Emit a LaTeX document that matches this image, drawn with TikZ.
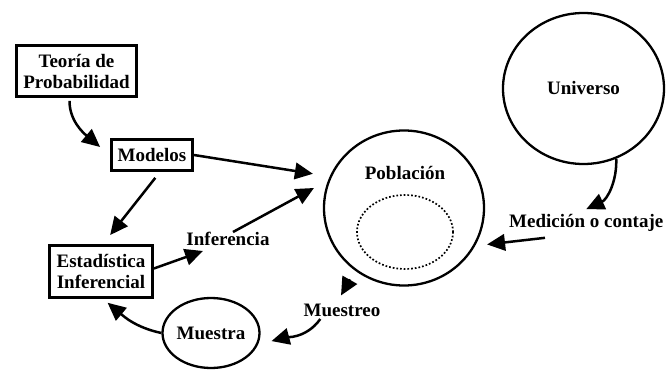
\documentclass[tikz,border=0pt]{standalone}
\usepackage{fontspec}
\setmainfont{Liberation Serif}
\usetikzlibrary{arrows.meta,calc,shapes.geometric}
\begin{document}
\begin{tikzpicture}[x=1pt,y=1pt,
  every node/.style={font=\fontsize{19}{21}\selectfont\bfseries},
  box/.style={draw,line width=2.8pt,align=center,inner sep=0pt},
  ring/.style={draw,ellipse,line width=2.3pt,inner sep=0pt},
  arr/.style={line width=2.5pt,-{Triangle[length=18pt,width=16.5pt]}},
  lbl/.style={inner sep=0pt}]
\useasboundingbox (0,0) rectangle (667,370);
% boxes
\node[box,minimum width=120pt,minimum height=51pt] (teo) at (76.5,299) {Teoría de\\Probabilidad};
\node[box,minimum width=81pt,minimum height=31pt] (mod) at (152,215) {Modelos};
\node[box,minimum width=103pt,minimum height=52pt] (est) at (101,98.5) {Estadística\\Inferencial};
% circles
\node[ring,minimum width=160pt,minimum height=155pt] (pob) at (404,162) {};
\node[lbl] (poblbl) at (405,197) {Población};
\node[draw,ellipse,dotted,line width=1.7pt,minimum width=96pt,minimum height=74pt] (sub) at (405,138) {};
\node[ring,minimum width=161pt,minimum height=151pt] (uni) at (583.5,281.5) {Universo};
\node[ring,minimum width=96pt,minimum height=70pt] (mue) at (211,37) {Muestra};
% labels
\node[lbl] (inf) at (228,131) {Inferencia};
\node[lbl] (mtr) at (342,60) {Muestreo};
\node[lbl,anchor=west] (med) at (509,147) {Medición o contaje};
% connectors
\draw[arr,shorten <=3pt] ([xshift=-7pt]teo.south) to[out=-90,in=140] ($(mod.west)+(-10,8)$);
\draw[arr,shorten >=17pt] (mod.east) -- (pob.157);
\draw[arr,shorten >=16pt] ([xshift=5pt]inf.north) -- (pob.160);
\draw[arr,shorten <=7.6pt,shorten >=11.5pt] ([xshift=8pt]mod.south) -- ([xshift=2pt]est.north);
\draw[arr] ([yshift=3pt]est.east) -- ($(inf.south)+(-25,-5)$);
\draw[arr,shorten >=6pt] (mue.west) to[out=168,in=-40] ([xshift=2pt]est.south);
\draw[arr,shorten <=3pt,shorten >=14pt] ([xshift=-20pt]mtr.south) to[out=-125,in=15] (mue.-14);
\draw[arr,shorten <=10pt] (pob.-128) -- ($(mtr.north)+(-1,8)$);
\draw[arr] (uni.-65) to[out=-88,in=25] ([yshift=5pt]med.north);
\draw[arr,shorten >=12pt] ($(med.south west)+(36,-6)$) -- (pob.-28);
\end{tikzpicture}
\end{document}
